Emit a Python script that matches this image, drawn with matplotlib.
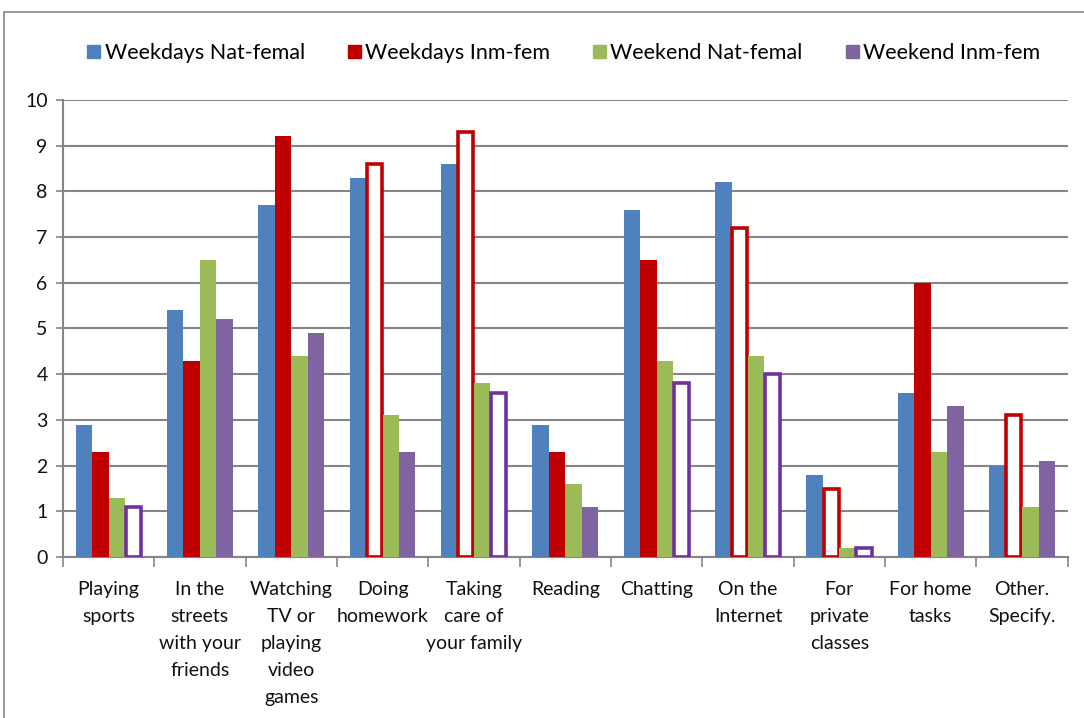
import numpy as np
import matplotlib.pyplot as plt
from matplotlib.patches import Rectangle

categories = ["Playing\nsports", "In the\nstreets\nwith your\nfriends",
              "Watching\nTV or\nplaying\nvideo\ngames", "Doing\nhomework",
              "Taking\ncare of\nyour family", "Reading", "Chatting",
              "On the\nInternet", "For\nprivate\nclasses", "For home\ntasks",
              "Other.\nSpecify."]

series_names = ["Weekdays Nat-femal", "Weekdays Inm-fem",
                "Weekend Nat-femal", "Weekend Inm-fem"]

wd_nat = [2.9, 5.4, 7.7, 8.3, 8.6, 2.9, 7.6, 8.2, 1.8, 3.6, 2.0]
wd_inm = [2.3, 4.3, 9.2, 8.6, 9.3, 2.3, 6.5, 7.2, 1.5, 6.0, 3.1]
we_nat = [1.3, 6.5, 4.4, 3.1, 3.8, 1.6, 4.3, 4.4, 0.2, 2.3, 1.1]
we_inm = [1.1, 5.2, 4.9, 2.3, 3.6, 1.1, 3.8, 4.0, 0.2, 3.3, 2.1]

# which bars are drawn hollow (outline only)
wd_inm_hollow = [False, False, False, True, True, False, False, True, True, False, True]
we_inm_hollow = [True, False, False, False, True, False, True, True, True, False, False]

colors = ["#4F81BD", "#C00000", "#9BBB59", "#8064A2"]
hollow_edge = {1: "#C00000", 3: "#7030A0"}

plt.rcParams['font.family'] = ['Lato', 'DejaVu Sans']

fig = plt.figure(figsize=(10.84, 7.18), dpi=100)
ax = fig.add_axes([0.058, 0.224, 0.927, 0.637])

# outer chart border
fig.patches.append(Rectangle((0.004, -0.1), 1.2, 1.083, transform=fig.transFigure,
                             fill=False, edgecolor="#868686", linewidth=1.2))

x = np.arange(len(categories))
w = 0.18
data = [wd_nat, wd_inm, we_nat, we_inm]
hollows = [None, wd_inm_hollow, None, we_inm_hollow]

for i, vals in enumerate(data):
    pos = x + (i - 1.5) * w
    for j, v in enumerate(vals):
        if hollows[i] is not None and hollows[i][j]:
            ax.bar(pos[j], v, w * 0.92, color="white", edgecolor=hollow_edge[i],
                   linewidth=2.6, zorder=3)
        else:
            ax.bar(pos[j], v, w, color=colors[i], edgecolor="none", zorder=3)

ax.set_xlim(-0.5, len(categories) - 0.5)
ax.set_ylim(0, 10)
ax.set_yticks(range(0, 11))
ax.yaxis.grid(True, color="#868686", linewidth=1.5, zorder=0)
ax.set_axisbelow(True)

for s in ["top", "right"]:
    ax.spines[s].set_visible(False)
ax.spines["left"].set_color("#868686")
ax.spines["left"].set_linewidth(1.5)
ax.spines["bottom"].set_color("#868686")
ax.spines["bottom"].set_linewidth(1.5)

ax.set_xticks(np.arange(-0.5, len(categories), 1), minor=False)
ax.set_xticklabels([])
ax.set_xticks(x, minor=True)
ax.set_xticklabels(categories, minor=True, fontsize=14, linespacing=1.72,
                   va="top", color="#111111")
ax.tick_params(axis="x", which="major", length=7, color="#868686", width=1.2)
ax.tick_params(axis="x", which="minor", length=0, pad=17)
ax.tick_params(axis="y", length=5, color="#868686", width=1.2, labelsize=14,
               labelcolor="#111111", pad=6)

handles = [Rectangle((0, 0), 1, 1, color=c) for c in colors]
fig.legend(handles, series_names, loc="center", bbox_to_anchor=(0.52, 0.926),
           ncol=4, frameon=False, fontsize=15.5, handlelength=0.6,
           handleheight=0.6, handletextpad=0.2, columnspacing=2.0)

fig.savefig("out.png", dpi=100)
